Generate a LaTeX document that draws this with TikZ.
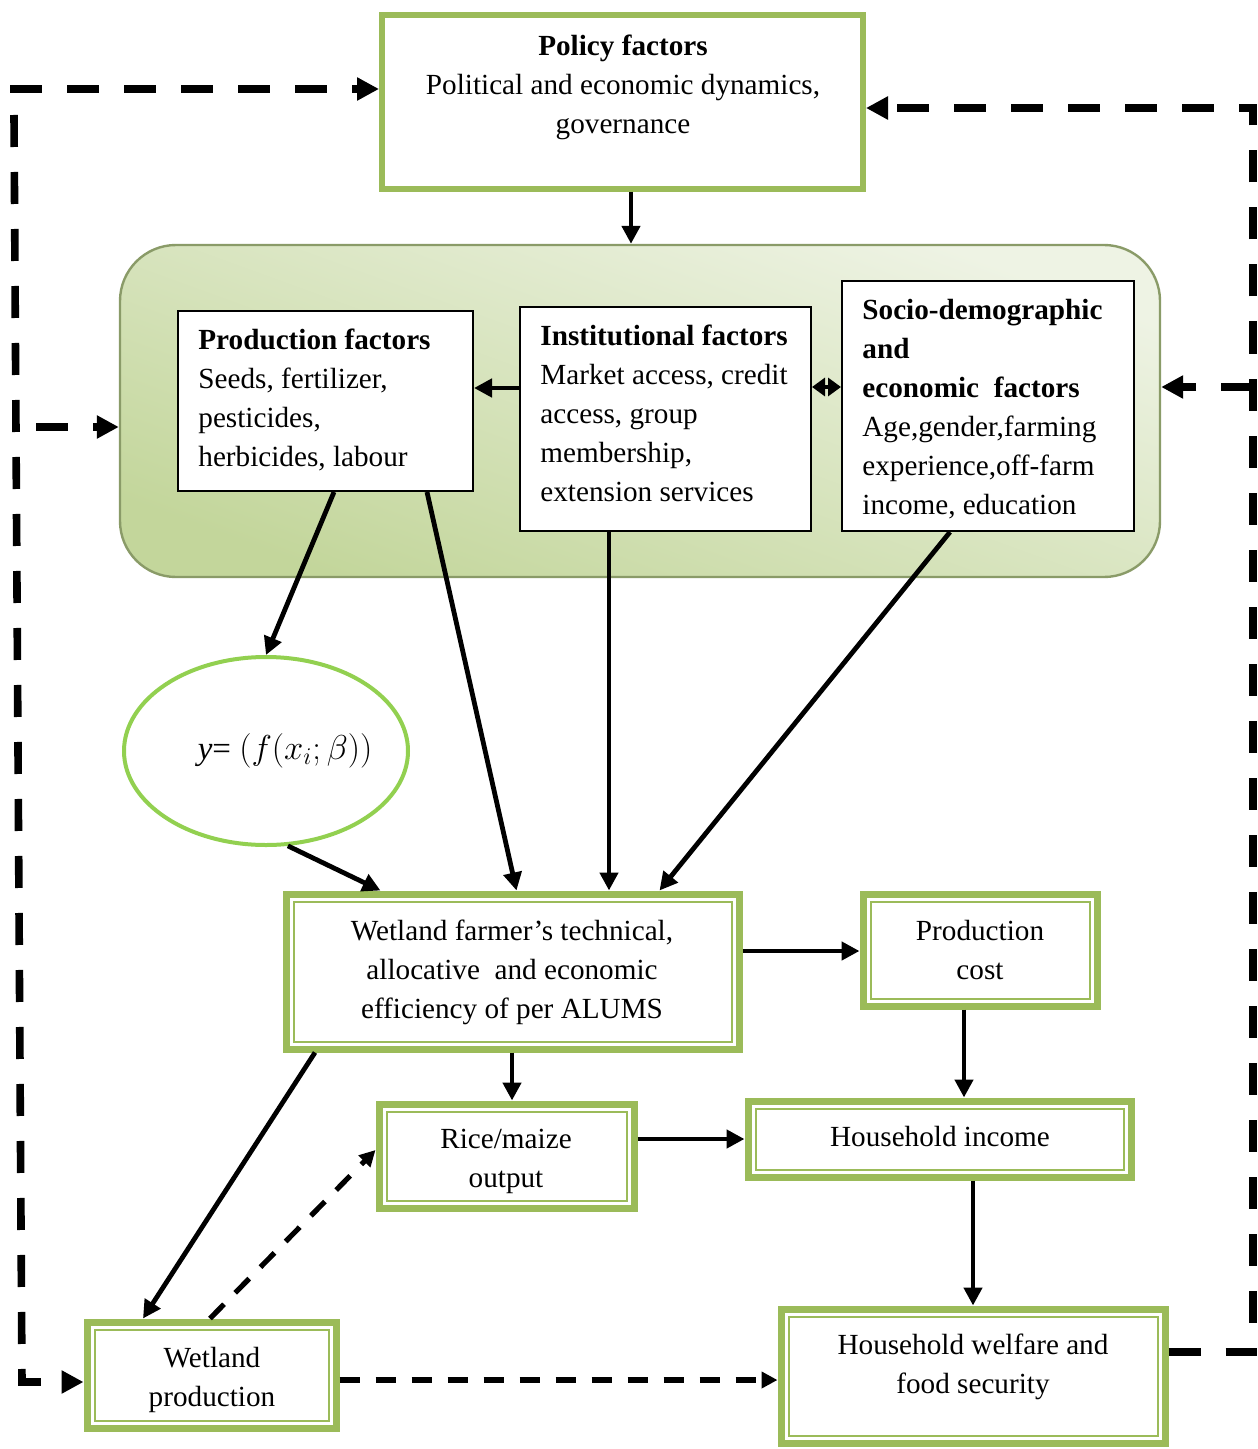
\documentclass[tikz,border=0pt]{standalone}
\usepackage{fontspec}
\setmainfont{Liberation Serif}
\usetikzlibrary{arrows.meta,calc,fit,shapes.geometric}
\definecolor{grn}{HTML}{9BBB59}
\definecolor{ellg}{HTML}{92D050}
\definecolor{gtop}{HTML}{EEF3E4}
\definecolor{gbot}{HTML}{C3D69B}
\definecolor{gedge}{HTML}{8A9B68}
\begin{document}
\begin{tikzpicture}[x=0.5pt,y=-0.5pt,
  txt/.style={inner sep=0pt, font=\fontsize{14.6}{19.5}\selectfont},
  gbox/.style={draw=grn, line width=3.5pt, inner sep=0pt},
  pbox/.style={draw=grn, line width=3pt, inner sep=0pt},
  kbox/.style={draw=black, line width=1pt, fill=white, inner sep=0pt},
  arr/.style={line width=2.4pt, -{Triangle[length=9pt,width=9pt]}},
  dbl/.style={line width=2.4pt, {Triangle[length=6.5pt,width=9pt]}-{Triangle[length=6.5pt,width=9pt]}},
  dshk/.style={line width=3.8pt, dash pattern=on 16pt off 12.5pt},
  dshkarr/.style={dshk, -{Triangle[length=11pt,width=11pt]}},
  dshn/.style={line width=2.6pt, dash pattern=on 10pt off 8pt, -{Triangle[length=8pt,width=8pt]}},
]
\useasboundingbox (0,0) rectangle (1257,1449);

% frames
\node[fit={(382,15)(863,189)}, pbox] (policy) {};
\node[fit={(120,245)(1160,577)}, inner sep=0pt, rounded corners=28pt, draw=gedge, line width=1.2pt, top color=gtop, bottom color=gbot, shading angle=-20] (env) {};
\node[fit={(178,311)(473,491)}, kbox] (prod) {};
\node[fit={(520,307)(811,531)}, kbox] (inst) {};
\node[fit={(842,281)(1134,531)}, kbox] (socio) {};
\node[ellipse, draw=ellg, line width=2pt, minimum width=142pt, minimum height=94pt, inner sep=0pt] (ell) at (266,751) {};
\node[fit={(286,894)(739,1049)}, gbox] (eff) {};
\node[fit={(863,894)(1097,1006)}, gbox] (pc) {};
\node[fit={(379,1104)(634,1208)}, gbox] (rice) {};
\node[fit={(748,1101)(1131,1177)}, gbox] (hh) {};
\node[fit={(781,1309)(1165,1443)}, gbox] (wel) {};
\node[fit={(87,1322)(336,1428)}, gbox] (wet) {};
\foreach \n in {eff,pc,rice,hh,wel,wet}
  \draw[grn, line width=1pt] ([shift={(11,11)}]\n.north west) rectangle ([shift={(-11,-11)}]\n.south east);

% texts
\node[txt, anchor=north, align=center] (tpol) at (623,28) {\strut\textbf{Policy factors}\\Political and economic dynamics,\\governance};
\node[txt, anchor=north west, align=left] (tprod) at (198,322) {\strut\textbf{Production factors}\\Seeds, fertilizer,\\pesticides,\\herbicides, labour};
\node[txt, anchor=north west, align=left] (tinst) at (540,318) {\strut\textbf{Institutional factors}\\Market access, credit\\access, group\\membership,\\extension services};
\node[txt, anchor=north west, align=left] (tsoc) at (862,292) {\strut\textbf{Socio-demographic}\\\textbf{and}\\\textbf{economic\ \ factors}\\Age,gender,farming\\experience,off-farm\\income, education};
\node[inner sep=0pt, font=\fontsize{16.5}{19.5}\selectfont] (teq) at (285,751) {\textit{y}= $(f(x_i;\beta))$};
\node[txt, anchor=north, align=center] (teff) at (512,913) {\strut Wetland farmer’s technical,\\allocative\ \ and economic\\efficiency of per ALUMS};
\node[txt, anchor=north, align=center] (tpc) at (980,913) {\strut Production\\cost};
\node[txt, anchor=north, align=center] (trice) at (506,1121) {\strut Rice/maize\\output};
\node[txt, anchor=north, align=center] (thh) at (940,1119) {\strut Household income};
\node[txt, anchor=north, align=center] (twel) at (973,1327) {\strut Household welfare and\\food security};
\node[txt, anchor=north, align=center] (twet) at (212,1340) {\strut Wetland\\production};

% solid arrows
\coordinate (a1) at ($(policy.south)+(8.5,0)$);
\draw[arr] (a1) -- (a1 |- env.north);
\coordinate (a2) at ($(inst.west)+(0,-31)$);
\draw[arr] (a2) -- (a2 -| prod.east);
\coordinate (a3) at ($(inst.east)+(0,-32)$);
\draw[dbl] (a3) -- (a3 -| socio.west);
\draw[arr] ($(prod.south west)+(157,0)$) -- (ell.north);
\draw[arr] ($(prod.south west)+(250,0)$) -- ($(eff.north west)+(234,0)$);
\coordinate (a4) at ($(inst.south west)+(90,0)$);
\draw[arr] (a4) -- (a4 |- eff.north);
\draw[arr] ($(socio.south west)+(109,0)$) -- ($(eff.north west)+(377,0)$);
\draw[arr] (ell.-77) -- ($(eff.north west)+(98,0)$);
\coordinate (a5) at ($(eff.east)+(0,-20.5)$);
\draw[arr] (a5) -- (a5 -| pc.west);
\coordinate (a6) at ($(eff.south west)+(229.5,0)$);
\draw[arr] (a6) -- (a6 |- rice.north);
\coordinate (a7) at ($(pc.south west)+(104.5,0)$);
\draw[arr] (a7) -- (a7 |- hh.north);
\coordinate (a8) at ($(rice.east)+(0,-17)$);
\draw[arr] (a8) -- (a8 -| hh.west);
\coordinate (a9) at ($(hh.south west)+(228.5,0)$);
\draw[arr] (a9) -- (a9 |- wel.north);
\draw[arr] ($(eff.south west)+(32.5,0)$) -- ($(wet.north west)+(59.5,0)$);

% dashed arrows
\draw[dshn] ($(wet.north west)+(126.5,0)$) -- ($(rice.west)+(0,-6)$);
\coordinate (a10) at ($(wet.east)+(0,5)$);
\draw[dshn] (a10) -- (a10 -| wel.west);

% left feedback loop
\coordinate (lt) at (10,89);
\coordinate (pw) at (lt -| policy.west);
\draw[dshkarr] (lt) -- (pw);
\coordinate (lv) at (14,115);
\coordinate (lb) at (22,1382);
\coordinate (ww) at (lb -| wet.west);
\draw[dshkarr] (lv) -- (lb) -- (ww);
\coordinate (lm) at (36,427);
\draw[dshkarr] (lm) -- (lm -| env.west);

% right feedback loop
\coordinate (rx) at (1253,0);
\coordinate (we) at ($(wel.east)+(0,-24)$);
\coordinate (pe) at ($(policy.east)+(0,6)$);
\draw[dshkarr] (we) -- (we -| rx) -- (pe -| rx) -- (pe);
\coordinate (em) at ($(env.east)+(0,-24)$);
\draw[dshkarr] (em -| rx) -- (em);
\end{tikzpicture}
\end{document}
